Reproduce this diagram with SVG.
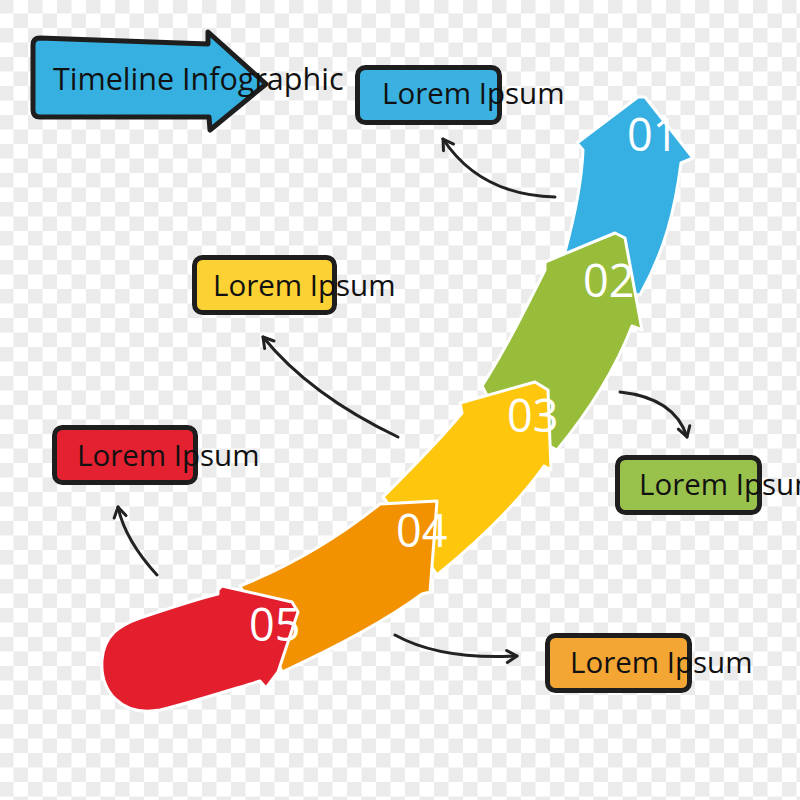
<svg xmlns="http://www.w3.org/2000/svg" width="800" height="800" viewBox="0 0 800 800">
  <defs>
    <pattern id="chk" width="29" height="29" patternUnits="userSpaceOnUse" x="-1" y="-1">
      <rect width="29" height="29" fill="#ffffff"/>
      <rect width="14.5" height="14.5" fill="#ebebeb"/>
      <rect x="14.5" y="14.5" width="14.5" height="14.5" fill="#ebebeb"/>
    </pattern>
    <marker id="ah" viewBox="0 0 16 16" refX="13" refY="8" markerWidth="16" markerHeight="16" markerUnits="userSpaceOnUse" orient="auto">
      <path d="M3,2 L13,8 L3,14" fill="none" stroke="#222" stroke-width="3" stroke-linecap="round" stroke-linejoin="round"/>
    </marker>
    <style>
      .box { stroke: #1e1e1e; stroke-width: 5; }
      .lbl { font-family: "Open Sans", "Liberation Sans", sans-serif; font-size: 29.5px; fill: #111; }
      .num { font-family: "Open Sans", "Liberation Sans", sans-serif; font-weight: 400; font-size: 45px; fill: #ffffff; }
      .seg { stroke: #ffffff; stroke-width: 3; stroke-linejoin: round; }
      .con { fill: none; stroke: #222; stroke-width: 3; stroke-linecap: round; marker-end: url(#ah); }
    </style>
  </defs>
  <rect width="800" height="800" fill="url(#chk)"/>

  <g id="title">
    <path d="M40,38 L208,44 L208,32 L266,84 L210,130 L209,117 L40,117 Q33,117 33,110 L33,45 Q33,38 40,38 Z" fill="#36b0e0" stroke="#1e1e1e" stroke-width="5" stroke-linejoin="round"/>
    <text x="53" y="90" class="lbl" style="font-size:30.5px">Timeline Infographic</text>
  </g>

  <g id="connectors">
    <path class="con" d="M555,197 Q480,195 443,139"/>
    <path class="con" d="M398,437 Q310,395 263,337"/>
    <path class="con" d="M157,575 Q125,540 118,507"/>
    <path class="con" d="M620,392 Q675,398 687,437"/>
    <path class="con" d="M395,635 Q440,660 517,656"/>
  </g>

  <g id="step01">
    <path class="seg" d="M565,252 C575,215 582,180 583,150 L577,143 L638,97 L645,97 L693,158 L681,163 C675,210 665,250 640,295 L590,290 Z" fill="#36b0e2"/>
  </g>
  <g id="step02">
    <path class="seg" d="M545,262 L615,233 L625,238 L642,330 L632,326 C615,370 590,410 557,450 L500,420 L482,386 C505,350 525,310 545,270 Z" fill="#98bd3a"/>
  </g>
  <g id="step03">
    <path class="seg" d="M460,403 L535,382 L548,390 L551,470 L544,466 C520,500 480,540 437,575 L400,520 L383,497 C410,470 440,440 462,413 Z" fill="#fec60d"/>
  </g>
  <g id="step04">
    <path class="seg" d="M240,586 C300,562 345,532 380,504 L437,501 L430,592 L422,594 C380,625 330,650 282,672 L265,630 Z" fill="#f39200"/>
  </g>
  <g id="step05">
    <path class="seg" d="M218,590 L222,586 L292,602 L298,612 L278,672 L266,688 L260,681 C230,690 190,703 160,710 C120,717 100,690 102,660 C104,635 120,625 140,618 C170,608 200,598 218,594 Z" fill="#e31e2d"/>
  </g>

  <g id="numbers">
    <text x="627" y="151" class="num">01</text>
    <text x="583" y="297" class="num">02</text>
    <text x="507" y="432" class="num">03</text>
    <text x="396" y="547" class="num">04</text>
    <text x="249" y="641" class="num">05</text>
  </g>

  <g id="box1">
    <rect class="box" x="357.5" y="67.5" width="142" height="55" rx="8" fill="#3ab1e0"/>
    <text x="382" y="104" class="lbl">Lorem Ipsum</text>
  </g>
  <g id="box2">
    <rect class="box" x="194.5" y="257.5" width="140" height="55" rx="8" fill="#fcd133"/>
    <text x="213" y="296" class="lbl">Lorem Ipsum</text>
  </g>
  <g id="box3">
    <rect class="box" x="54.5" y="427.5" width="141" height="55" rx="8" fill="#e42130"/>
    <text x="77" y="466" class="lbl">Lorem Ipsum</text>
  </g>
  <g id="box4">
    <rect class="box" x="617.5" y="457.5" width="142" height="55" rx="8" fill="#99c24d"/>
    <text x="639" y="495" class="lbl">Lorem Ipsum</text>
  </g>
  <g id="box5">
    <rect class="box" x="547.5" y="635.5" width="142" height="55" rx="8" fill="#f3a633"/>
    <text x="570" y="673" class="lbl">Lorem Ipsum</text>
  </g>
</svg>
